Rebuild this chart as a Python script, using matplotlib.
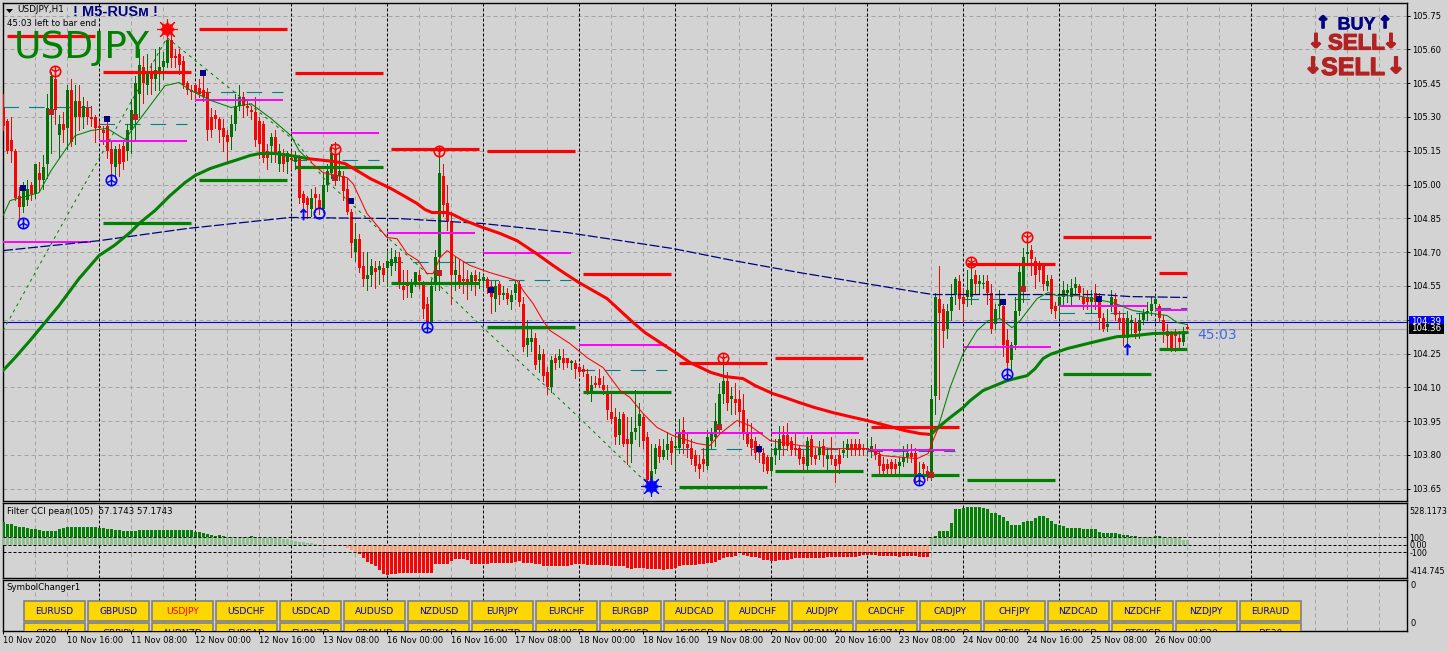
import matplotlib
matplotlib.use('Agg')
import matplotlib.pyplot as plt
import matplotlib.patheffects as pe
from matplotlib.patches import Rectangle
import numpy as np

W, H = 1447, 651
BG = '#d3d3d3'

open_px = [
    105.34,105.28,105.20,105.15,104.95,104.90,104.93,105.00,104.96,105.05,105.02,105.09,105.31,105.47,105.22,105.27,
    105.25,105.42,105.30,105.37,105.30,105.34,105.30,105.30,105.26,105.24,105.26,105.16,105.08,105.16,105.17,105.15,
    105.24,105.30,105.40,105.52,105.44,105.49,105.47,105.50,105.52,105.54,105.64,105.57,105.58,105.55,105.45,105.42,
    105.44,105.43,105.42,105.41,105.30,105.31,105.29,105.25,105.22,105.21,105.27,105.35,105.39,105.35,105.33,105.32,
    105.28,105.27,105.15,105.17,105.21,105.09,105.14,105.10,105.12,105.10,105.12,104.96,104.94,104.89,104.96,104.93,
    104.89,105.00,105.05,105.13,105.04,105.04,104.98,104.88,104.70,104.76,104.64,104.58,104.60,104.63,104.62,104.63,
    104.63,104.64,104.65,104.68,104.55,104.56,104.52,104.56,104.60,104.56,104.47,104.39,104.56,104.68,105.04,104.92,
    104.84,104.60,104.60,104.58,104.58,104.56,104.60,104.57,104.57,104.58,104.55,104.49,104.56,104.51,104.52,104.48,
    104.52,104.56,104.47,104.29,104.30,104.32,104.22,104.25,104.17,104.10,104.23,104.22,104.23,104.23,104.21,104.21,
    104.19,104.18,104.16,104.08,104.12,104.14,104.11,104.07,103.99,103.97,103.89,103.98,103.87,103.85,103.90,103.93,
    103.97,103.88,103.69,103.74,103.84,103.79,103.82,103.86,103.83,103.83,103.91,103.85,103.83,103.80,103.76,103.78,
    103.75,103.86,103.88,103.93,104.07,104.13,104.05,104.05,104.05,104.00,103.90,103.87,103.86,103.84,103.81,103.79,
    103.73,103.80,103.82,103.89,103.89,103.86,103.83,103.83,103.79,103.75,103.87,103.80,103.80,103.84,103.78,103.80,
    103.78,103.80,103.81,103.82,103.85,103.85,103.85,103.83,103.82,103.82,103.82,103.80,103.76,103.76,103.77,103.76,
    103.75,103.77,103.79,103.81,103.81,103.71,103.76,103.73,103.70,104.06,104.49,104.45,104.36,104.44,104.51,104.57,
    104.50,104.50,104.50,104.60,104.56,104.56,104.57,104.52,104.38,104.46,104.46,104.31,104.22,104.29,104.44,104.54,
    104.69,104.71,104.66,104.65,104.64,104.55,104.58,104.46,104.46,104.50,104.52,104.50,104.54,104.55,104.50,104.50,
    104.48,104.52,104.49,104.41,104.37,104.46,104.49,104.41,104.41,104.32,104.39,104.39,104.35,104.40,104.43,104.44,
    104.47,104.46,104.40,104.35,104.34,104.34,104.32,104.30,104.37,
]
close_px = [
    105.26,105.15,105.15,104.94,104.90,104.97,104.98,104.96,105.09,105.02,105.08,105.34,105.48,105.33,105.27,105.24,
    105.42,105.19,105.37,105.30,105.35,105.30,105.29,105.25,105.25,105.23,105.15,105.09,105.16,105.09,105.10,105.24,
    105.33,105.45,105.53,105.45,105.49,105.47,105.51,105.52,105.55,105.64,105.56,105.56,105.53,105.44,105.42,105.41,
    105.41,105.40,105.39,105.24,105.24,105.29,105.24,105.21,105.19,105.27,105.35,105.39,105.35,105.34,105.32,105.20,
    105.18,105.12,105.12,105.21,105.14,105.15,105.09,105.14,105.11,105.13,104.94,104.92,104.91,104.94,104.94,104.89,
    105.00,105.06,105.14,105.03,105.06,104.97,104.88,104.74,104.76,104.63,104.58,104.60,104.64,104.61,104.64,104.60,
    104.66,104.67,104.68,104.56,104.53,104.55,104.56,104.61,104.57,104.45,104.39,104.55,104.68,105.05,104.91,104.84,
    104.60,104.62,104.56,104.57,104.56,104.60,104.57,104.58,104.59,104.54,104.50,104.55,104.51,104.52,104.49,104.51,
    104.56,104.48,104.28,104.32,104.32,104.20,104.25,104.15,104.10,104.22,104.21,104.24,104.21,104.21,104.21,104.18,
    104.17,104.17,104.08,104.11,104.11,104.11,104.09,104.00,103.96,103.88,103.96,103.85,103.85,103.90,103.92,103.98,
    103.86,103.69,103.73,103.83,103.79,103.82,103.85,103.81,103.84,103.90,103.85,103.83,103.78,103.75,103.74,103.76,
    103.88,103.90,103.95,104.07,104.13,104.03,104.06,104.03,103.99,103.90,103.85,103.83,103.81,103.81,103.76,103.73,
    103.79,103.83,103.87,103.84,103.84,103.82,103.82,103.78,103.76,103.86,103.79,103.78,103.83,103.80,103.80,103.78,
    103.75,103.76,103.82,103.85,103.82,103.82,103.82,103.82,103.83,103.84,103.80,103.75,103.73,103.74,103.74,103.74,
    103.77,103.79,103.81,103.79,103.71,103.72,103.74,103.71,104.05,104.50,104.43,104.35,104.44,104.50,104.58,104.49,
    104.47,104.53,104.58,104.56,104.57,104.56,104.52,104.36,104.45,104.47,104.29,104.21,104.29,104.44,104.61,104.68,
    104.70,104.67,104.60,104.62,104.56,104.57,104.45,104.44,104.50,104.53,104.53,104.54,104.56,104.52,104.47,104.48,
    104.50,104.48,104.41,104.36,104.38,104.50,104.42,104.39,104.32,104.41,104.40,104.34,104.40,104.43,104.44,104.47,
    104.49,104.41,104.35,104.33,104.27,104.33,104.30,104.35,104.36,
]
high_px = [
    105.40,105.29,105.30,105.16,104.99,105.01,105.02,105.01,105.09,105.10,105.13,105.40,105.50,105.49,105.31,105.32,
    105.44,105.47,105.44,105.44,105.39,105.37,105.35,105.31,105.28,105.26,105.28,105.20,105.17,105.18,105.19,105.27,
    105.38,105.48,105.60,105.57,105.58,105.54,105.60,105.61,105.59,105.70,105.67,105.60,105.60,105.57,105.46,105.44,
    105.45,105.47,105.50,105.43,105.34,105.33,105.30,105.29,105.24,105.31,105.40,105.44,105.41,105.38,105.35,105.39,
    105.30,105.28,105.18,105.23,105.24,105.18,105.16,105.15,105.15,105.15,105.13,104.97,104.95,104.98,104.99,104.96,
    105.05,105.09,105.18,105.19,105.14,105.06,105.03,104.89,104.83,104.78,104.70,104.70,104.67,104.66,104.66,104.65,
    104.70,104.72,104.71,104.70,104.62,104.62,104.58,104.61,104.62,104.57,104.50,104.58,104.71,105.15,105.09,105.00,
    104.88,104.68,104.67,104.66,104.62,104.61,104.62,104.61,104.60,104.59,104.57,104.57,104.57,104.55,104.54,104.53,
    104.57,104.57,104.50,104.40,104.37,104.34,104.29,104.27,104.19,104.24,104.25,104.27,104.27,104.23,104.22,104.22,
    104.20,104.20,104.18,104.15,104.15,104.18,104.15,104.11,104.07,104.01,103.99,103.99,103.97,103.97,104.09,104.03,
    103.98,103.90,103.85,103.85,103.87,103.87,103.90,103.88,103.89,103.96,103.97,103.90,103.87,103.82,103.80,103.83,
    103.91,103.92,104.03,104.12,104.22,104.17,104.10,104.12,104.09,104.07,103.96,103.94,103.88,103.85,103.83,103.80,
    103.83,103.87,103.93,103.93,103.94,103.88,103.90,103.84,103.82,103.88,103.89,103.83,103.86,103.87,103.83,103.88,
    103.80,103.83,103.86,103.87,103.87,103.87,103.87,103.85,103.87,103.88,103.85,103.82,103.79,103.78,103.78,103.78,
    103.79,103.84,103.85,103.85,103.83,103.77,103.77,103.75,104.11,104.52,104.64,104.47,104.47,104.56,104.59,104.60,
    104.54,104.62,104.65,104.62,104.60,104.60,104.60,104.56,104.47,104.53,104.47,104.36,104.30,104.50,104.64,104.72,
    104.74,104.73,104.68,104.66,104.65,104.60,104.60,104.48,104.55,104.57,104.56,104.58,104.59,104.56,104.54,104.53,
    104.53,104.56,104.52,104.43,104.45,104.53,104.52,104.44,104.43,104.44,104.42,104.41,104.43,104.45,104.48,104.50,
    104.50,104.47,104.42,104.38,104.35,104.36,104.35,104.37,104.38,
]
low_px = [
    105.24,105.14,105.10,104.93,104.85,104.88,104.91,104.93,104.94,104.97,104.98,105.03,105.14,105.27,105.12,105.19,
    105.16,105.17,105.18,105.24,105.25,105.27,105.26,105.19,105.21,105.18,105.12,105.00,105.03,105.04,105.07,105.11,
    105.14,105.20,105.30,105.36,105.40,105.40,105.42,105.42,105.47,105.52,105.52,105.52,105.49,105.43,105.40,105.38,
    105.37,105.39,105.37,105.20,105.21,105.25,105.19,105.15,105.10,105.16,105.24,105.33,105.30,105.31,105.29,105.17,
    105.12,105.10,105.07,105.10,105.10,105.06,105.06,105.05,105.07,105.07,104.92,104.89,104.85,104.86,104.88,104.87,
    104.88,104.97,105.03,105.00,105.02,104.93,104.87,104.68,104.66,104.61,104.55,104.53,104.55,104.54,104.56,104.57,
    104.55,104.60,104.62,104.54,104.49,104.50,104.50,104.55,104.54,104.41,104.38,104.38,104.53,104.53,104.86,104.80,
    104.47,104.53,104.54,104.52,104.49,104.53,104.51,104.54,104.53,104.52,104.43,104.44,104.47,104.49,104.47,104.45,
    104.49,104.46,104.26,104.24,104.26,104.18,104.17,104.13,104.07,104.08,104.18,104.19,104.18,104.19,104.18,104.14,
    104.15,104.15,104.07,104.04,104.10,104.10,104.07,103.96,103.94,103.85,103.85,103.84,103.76,103.77,103.87,103.84,
    103.83,103.67,103.67,103.72,103.77,103.78,103.78,103.76,103.74,103.81,103.81,103.79,103.76,103.73,103.70,103.73,
    103.74,103.83,103.84,103.90,104.03,104.00,103.98,103.98,103.93,103.87,103.84,103.80,103.78,103.77,103.73,103.72,
    103.71,103.76,103.78,103.80,103.82,103.80,103.80,103.76,103.74,103.74,103.76,103.76,103.78,103.75,103.74,103.76,
    103.68,103.72,103.79,103.79,103.80,103.80,103.80,103.80,103.80,103.79,103.78,103.72,103.71,103.72,103.71,103.72,
    103.72,103.75,103.77,103.77,103.68,103.69,103.70,103.69,103.69,103.98,104.05,104.28,104.32,104.40,104.47,104.45,
    104.39,104.46,104.47,104.52,104.52,104.54,104.47,104.34,104.36,104.41,104.24,104.17,104.18,104.27,104.42,104.48,
    104.65,104.60,104.54,104.57,104.53,104.53,104.43,104.41,104.41,104.47,104.48,104.47,104.51,104.49,104.45,104.45,
    104.43,104.45,104.36,104.35,104.35,104.44,104.40,104.36,104.29,104.27,104.33,104.32,104.32,104.38,104.40,104.42,
    104.45,104.39,104.30,104.28,104.26,104.26,104.28,104.29,104.36,
]

cci_values = [
    300,283,275,248,239,230,220,216,216,202,185,185,185,185,207,225,
    239,243,243,239,239,239,239,232,220,225,212,207,198,190,185,180,
    178,185,190,190,198,198,198,198,194,198,198,194,190,194,194,190,
    175,165,157,148,130,122,126,122,108,102,96,96,97,105,118,102,
    99,94,94,94,85,85,81,81,63,54,36,32,27,18,13,-8,
    -12,-14,-14,-14,-18,-22,-45,-68,-95,-130,-171,-230,-261,-283,-342,-387,
    -400,-391,-385,-382,-382,-382,-382,-382,-382,-382,-382,-382,-261,-261,-261,-261,
    -220,-193,-193,-193,-207,-261,-261,-261,-252,-252,-239,-239,-239,-239,-239,-239,
    -226,-213,-239,-239,-239,-252,-252,-287,-287,-287,-287,-287,-287,-278,-265,-252,
    -252,-252,-265,-265,-265,-265,-265,-265,-278,-287,-287,-287,-304,-318,-304,-304,
    -304,-318,-318,-318,-318,-331,-318,-318,-304,-278,-265,-265,-265,-265,-252,-252,
    -239,-239,-226,-200,-174,-161,-161,-148,-113,-135,-148,-161,-161,-174,-200,-200,
    -213,-213,-200,-200,-200,-187,-174,-174,-174,-174,-174,-174,-174,-174,-161,-161,
    -161,-161,-161,-161,-161,-161,-148,-135,-135,-135,-135,-148,-148,-148,-148,-148,
    -161,-148,-148,-148,-148,-161,-161,-161,100,117,185,185,185,292,481,481,
    490,504,508,508,499,495,481,427,418,400,364,320,265,265,265,306,
    310,310,355,382,378,355,320,283,265,252,225,225,225,225,211,211,
    211,211,171,162,162,157,157,144,130,130,121,117,108,99,99,99,
    115,112,99,94,94,90,85,67,67,
]

# thick and thin moving averages, three colour runs each
thick_up1_x = [0,3,6.75,10.5,14,19,24,27.75,31.75,34.25,38,41.75,45.5,48,51.75,55.5,58,61.75,64.25,68,71.75,76.25]
thick_up1_y = [104.175,104.232,104.308,104.388,104.463,104.583,104.685,104.729,104.787,104.831,104.885,104.951,105.009,105.040,105.071,105.093,105.107,105.129,105.138,105.138,105.129,105.115]
thick_dn_x = [76.25,83,85.5,88.5,91.75,97,100.5,103.5,105.5,107.25,109.25,111,112.5,115.5,120,124.25,128.5,133,137.5,140.5,144,151,154.25,157.5,160.5,163.5,168.5,171.75,177,180.5,185,188,192.5,195.5,199,203,207.5,211.75,216,221,225.5,229.25,232]
thick_dn_y = [105.115,105.102,105.093,105.062,105.027,104.982,104.947,104.916,104.889,104.876,104.876,104.876,104.867,104.840,104.809,104.783,104.751,104.698,104.641,104.605,104.565,104.494,104.441,104.388,104.343,104.308,104.250,104.210,104.166,104.148,104.139,104.108,104.072,104.055,104.033,104.010,103.988,103.970,103.953,103.930,103.908,103.895,103.891]
thick_up2_x = [232,233.75,236.75,240,241.75,245,248,251,253,256,258,260,261.75,266,271,274.25,278.5,283,287.5,296]
thick_up2_y = [103.891,103.922,103.966,104.010,104.041,104.086,104.108,104.130,104.139,104.152,104.183,104.228,104.246,104.272,104.294,104.308,104.325,104.330,104.339,104.343]

thin_up1_x = [0,1.75,9,12,18,22,26,30.5,33,40.5,44,47,52,57,62,67,72,74,76]
thin_up1_y = [104.862,104.929,104.964,105.062,105.217,105.240,105.249,105.200,105.262,105.439,105.453,105.417,105.373,105.342,105.359,105.293,105.217,105.151,105.115]
thin_dn_x = [77,80,86,87.5,91,96,98.5,101,103.75,106,107.5,109.25,111,113.5,116.75,121.75,128.5,130,132.5,135,136.75,141.75,146,150,154.25,156.75,160,163.5,167.5,173.5,176.75,179.25,183.5,186.75,191.75,199.25,207.5,216,220,228.5,231.25,232.5,233.75]
thin_dn_y = [105.098,105.053,105.031,105.004,104.871,104.765,104.760,104.694,104.663,104.605,104.605,104.676,104.707,104.676,104.641,104.609,104.574,104.530,104.472,104.396,104.352,104.294,104.232,104.188,104.086,104.055,103.984,103.922,103.886,103.851,103.842,103.895,103.953,103.930,103.864,103.842,103.828,103.828,103.797,103.784,103.806,103.864,103.917]
thin_up2_x = [233.75,236.75,240,243.5,246.25,249.25,252.25,254.25,258.5,261.25,263.5,268.5,277.5,282.5,287.5,291,293.5,296]
thin_up2_y = [103.922,104.099,104.250,104.352,104.396,104.405,104.365,104.396,104.494,104.521,104.507,104.507,104.476,104.441,104.427,104.419,104.388,104.379]

slow_ma_x = [0,24,46,71.75,99.25,120,141,157.5,167.5,182.5,199.25,229.25,232.5,274.25,281.75,296]
slow_ma_y = [104.707,104.751,104.805,104.854,104.849,104.827,104.787,104.743,104.716,104.663,104.609,104.521,104.512,104.512,104.503,104.499]

zigzag_x = [0,11.25,41,73.5,80,94.25,106,120,127.5,144.25,158.5,161.25]
zigzag_y = [104.352,104.712,105.652,105.186,105.031,104.796,104.605,104.365,104.241,103.962,103.717,103.673]

# day levels
red_start = [1,25,49,73,97,121,145,169,193,217,241,265,289]
red_end = [23,47,71,95,119,143,167,191,215,239,263,287,296]
red_level = [105.661,105.501,105.692,105.493,105.160,105.151,104.601,104.210,104.232,103.922,104.649,104.769,104.609]
green_start = red_start[1:]
green_end = red_end[1:]
green_level = [104.831,105.022,105.080,104.565,104.370,104.081,103.660,103.731,103.709,103.691,104.161,104.272]
pivot_start = [0,24,48,72,96,120,144,168,192,216,240,264,288]
pivot_end = [22,46,70,94,118,142,166,190,214,238,262,286,296]
magenta_level = [104.743,105.195,105.377,105.231,104.787,104.698,104.290,103.899,103.899,103.824,104.281,104.459,104.445]
teal_level = [105.346,105.271,105.413,105.111,104.658,104.578,104.179,103.828,103.828,103.819,104.490,104.432,104.454]

# chart signals
sell_circle_x = [13,83,109,180,242,256]
sell_circle_y = [105.506,105.160,105.151,104.232,104.658,104.769]
buy_circle_x = [5,27,106,229,251]
buy_circle_y = [104.831,105.022,104.370,103.691,104.161]
open_circle_x = [79]
open_circle_y = [104.876]
up_arrow_x = [75,281]
up_arrow_y = [104.871,104.272]
red_star_x, red_star_y = [41], [105.692]
blue_star_x, blue_star_y = [162], [103.664]
navy_sq_x = [5,26,50,87,122,189,250,274]
navy_sq_y = [104.987,105.293,105.493,104.929,104.530,103.828,104.481,104.490]
brown_sq_x = [12,33,83,109,179,232,255]
brown_sq_y = [105.320,105.302,105.031,104.609,103.922,103.709,104.538]

price_ticks = [103.65,103.80,103.95,104.10,104.25,104.40,104.55,104.70,104.85,105.00,105.15,105.30,105.45,105.60,105.75]
time_labels = ['10 Nov 2020','10 Nov 16:00','11 Nov 08:00','12 Nov 00:00','12 Nov 16:00','13 Nov 08:00',
               '16 Nov 00:00','16 Nov 16:00','17 Nov 08:00','18 Nov 00:00','18 Nov 16:00','19 Nov 08:00',
               '20 Nov 00:00','20 Nov 16:00','23 Nov 08:00','24 Nov 00:00','24 Nov 16:00','25 Nov 08:00','26 Nov 00:00']
symbols_row1 = ['EURUSD','GBPUSD','USDJPY','USDCHF','USDCAD','AUDUSD','NZDUSD','EURJPY','EURCHF','EURGBP',
                'AUDCAD','AUDCHF','AUDJPY','CADCHF','CADJPY','CHFJPY','NZDCAD','NZDCHF','NZDJPY','EURAUD']
symbols_row2 = ['GBPCHF','GBPJPY','AUDNZD','EURCAD','EURNZD','GBPAUD','GBPCAD','GBPNZD','XAUUSD','XAGUSD',
                'USDSGD','USDHKD','USDMXN','USDZAR','NZDSGD','XTIUSD','XBRUSD','BTCUSD','US30','DE30']

plt.rcParams['font.family'] = 'DejaVu Sans'
plt.rcParams['font.size'] = 6


def panel(fig, top, bottom, left=2.5, right=1406.5):
    ax = fig.add_axes([left / W, 1 - bottom / H, (right - left) / W, (bottom - top) / H])
    ax.set_facecolor(BG)
    ax.set_xlim(-0.14, 350.86)
    for spine in ax.spines.values():
        spine.set_linewidth(1.0)
        spine.set_color('black')
    ax.yaxis.tick_right()
    ax.tick_params(axis='y', length=2.4, width=0.72, pad=1.5, labelsize=6)
    ax.set_xticks([])
    return ax


def draw_grid(ax, hlines=()):
    gray = [8 * k for k in range(45) if k % 3 != 0 or k > 39]
    for x in gray:
        ax.axvline(x, color='#a3a3a3', lw=0.72, ls=(0, (4, 3)), zorder=1)
    for y in hlines:
        ax.axhline(y, color='#a3a3a3', lw=0.72, ls=(0, (4, 3)), zorder=1)
    for x in range(24, 313, 24):
        ax.axvline(x, color='black', lw=0.72, ls=(0, (3, 2)), zorder=1.5)


def draw_candles(ax):
    bars = np.arange(len(close_px))
    o, c = np.array(open_px), np.array(close_px)
    colors = np.where(c >= o, '#007000', '#ff0000')
    ax.vlines(bars, low_px, high_px, colors=colors, lw=0.72, antialiased=False, zorder=3)
    # keep a one pixel body on the flat bars
    body = np.maximum(np.abs(c - o), 0.005)
    ax.bar(bars, body, bottom=np.minimum(o, c), width=0.75, color=colors, lw=0,
           antialiased=False, zorder=3.1)


def draw_levels(ax):
    ax.hlines(red_level, red_start, red_end, colors='#ff0000', lw=2.3, zorder=4)
    ax.hlines(green_level, green_start, green_end, colors='#008000', lw=2.3, zorder=4)
    ax.hlines(magenta_level, pivot_start, pivot_end, colors='#ff00ff', lw=1.4, zorder=4)
    ax.hlines(teal_level, pivot_start, pivot_end, colors='#008080', lw=0.8,
              linestyles=(0, (14, 9)), zorder=2.5)


def draw_lines(ax):
    ax.plot(slow_ma_x, slow_ma_y, color='#000080', lw=0.9, ls=(0, (8, 2)), zorder=4.2)
    ax.plot(zigzag_x, zigzag_y, color='#008000', lw=0.72, ls=(0, (3, 4)), zorder=4.2)
    ax.plot(thick_up1_x, thick_up1_y, color='#008000', lw=2.2, zorder=5)
    ax.plot(thick_dn_x, thick_dn_y, color='#ff0000', lw=2.2, zorder=5)
    ax.plot(thick_up2_x, thick_up2_y, color='#008000', lw=2.2, zorder=5)
    ax.plot(thin_up1_x, thin_up1_y, color='#008000', lw=0.75, zorder=5)
    ax.plot(thin_dn_x, thin_dn_y, color='#ff0000', lw=0.75, zorder=5)
    ax.plot(thin_up2_x, thin_up2_y, color='#008000', lw=0.75, zorder=5)


def draw_signals(ax):
    kw = dict(ls='none', zorder=6)
    ax.plot(navy_sq_x, navy_sq_y, marker='s', ms=3.8, color='#000080', mew=0, **kw)
    ax.plot(brown_sq_x, brown_sq_y, marker='s', ms=3.8, color='#b22222', mew=0, **kw)
    ax.plot(sell_circle_x, sell_circle_y, marker='o', ms=7.5, mfc='none', mec='#ff0000', mew=1.2, **kw)
    ax.plot(sell_circle_x, sell_circle_y, marker='1', ms=6.5, color='#ff0000', mew=1.0, **kw)
    ax.plot(sell_circle_x, sell_circle_y, marker='|', ms=6.5, color='#ff0000', mew=1.0, **kw)
    ax.plot(buy_circle_x, buy_circle_y, marker='o', ms=7.5, mfc='none', mec='#0000ff', mew=1.2, **kw)
    ax.plot(buy_circle_x, buy_circle_y, marker='2', ms=6.5, color='#0000ff', mew=1.0, **kw)
    ax.plot(buy_circle_x, buy_circle_y, marker='|', ms=6.5, color='#0000ff', mew=1.0, **kw)
    ax.plot(open_circle_x, open_circle_y, marker='o', ms=7.5, mfc='none', mec='#0000ff', mew=1.3, **kw)
    ax.plot(up_arrow_x, up_arrow_y, marker=r'$\uparrow$', ms=8, color='#0000ff', mew=0.4, **kw)
    for x, y, col in [(red_star_x, red_star_y, '#ff0000'), (blue_star_x, blue_star_y, '#0000ff')]:
        ax.plot(x, y, marker=(8, 1, 0), ms=13, color=col, mew=0, **kw)
        ax.plot(x, y, marker='o', ms=9, color=col, mew=0, alpha=0.75, **kw)
        ax.plot(x, y, marker=(8, 2, 0), ms=15, color=col, mew=0.8, **kw)


def draw_buttons(ax):
    for col, name in enumerate(symbols_row1):
        x0 = (23.5 + 64 * col - 3) / 4
        ax.add_patch(Rectangle((x0, 601), 15.4, 20, fc='#ffd700', ec='#808080', lw=1.2, zorder=3))
        ax.text(x0 + 7.7, 611, name, color='#ff0000' if name == 'USDJPY' else '#0000cd',
                ha='center', va='center', fontsize=6.6, zorder=4)
    for col, name in enumerate(symbols_row2):
        x0 = (23.5 + 64 * col - 3) / 4
        ax.add_patch(Rectangle((x0, 623), 15.4, 20, fc='#ffd700', ec='#808080', lw=1.2, zorder=3))
        ax.text(x0 + 7.7, 633, name, color='#0000cd', ha='center', va='center',
                fontsize=6.6, zorder=4, clip_on=True)


def figtext(fig, px, py, s, **kw):
    kw.setdefault('va', 'center')
    return fig.text(px / W, 1 - py / H, s, **kw)


def draw_overlay(fig):
    fig.add_artist(plt.Polygon([(6 / W, 1 - 9 / H), (13 / W, 1 - 9 / H), (9.5 / W, 1 - 13 / H)],
                               closed=True, fc='black', ec='none', transform=fig.transFigure))
    figtext(fig, 17.5, 10, 'USDJPY,H1', fontsize=6.4, color='black')
    figtext(fig, 73, 12, '! M5-RUSм !', fontsize=10.5, color='#000080', fontweight='bold', family='Liberation Sans')
    figtext(fig, 7, 23, '45:03 left to bar end', fontsize=6.2, color='black')
    figtext(fig, 14, 48, 'USDJPY', fontsize=27, color='#008000')
    figtext(fig, 1197, 335, '45:03', fontsize=10, color='#4169e1')
    figtext(fig, 6.6, 511, 'Filter CCI реал(105)  57.1743 57.1743', fontsize=6.2, color='black')
    figtext(fig, 6.6, 588, 'SymbolChanger1', fontsize=6.2, color='black')

    heavy = [pe.withStroke(linewidth=0.9, foreground='#b22222')]
    navy = [pe.withStroke(linewidth=0.2, foreground='#000080')]
    figtext(fig, 1356.5, 25, 'BUY', fontsize=13, color='#000080', fontweight='bold',
            family='Liberation Sans', ha='center', path_effects=navy)
    figtext(fig, 1356.5, 44, 'SELL', fontsize=16, color='#b22222', fontweight='bold',
            family='Liberation Sans', ha='center', path_effects=heavy)
    figtext(fig, 1353, 68, 'SELL', fontsize=18, color='#b22222', fontweight='bold',
            family='Liberation Sans', ha='center', path_effects=heavy)
    for px, py, size, col in [(1323, 23, 12, '#000080'), (1385, 23, 12, '#000080'),
                              (1316, 42, 14, '#b22222'), (1391, 42, 14, '#b22222'),
                              (1313, 67, 16, '#b22222'), (1396, 67, 16, '#b22222')]:
        figtext(fig, px, py, '\u2191' if col == '#000080' else '\u2193', fontsize=size, color=col,
                fontweight='bold', ha='center',
                path_effects=[pe.withStroke(linewidth=1.2, foreground=col)])

    # price tags on the right axis
    for py0, py1, col, label in [(316, 327, '#0000ff', '104.39'), (323.5, 333.5, 'black', '104.36')]:
        fig.add_artist(Rectangle((1409 / W, 1 - py1 / H), 35 / W, (py1 - py0) / H, fc=col, ec='none',
                                 transform=fig.transFigure))
        figtext(fig, 1411, (py0 + py1) / 2, label, fontsize=6.2, color='white')


def main():
    fig = plt.figure(figsize=(W / 100, H / 100), dpi=100, facecolor=BG)

    ax_main = panel(fig, 2.5, 500.5)
    ax_main.set_ylim(103.598, 105.808)
    ax_main.set_yticks(price_ticks)
    ax_main.set_yticklabels([f'{p:.2f}' for p in price_ticks])
    draw_grid(ax_main, price_ticks)
    draw_candles(ax_main)
    draw_levels(ax_main)
    draw_lines(ax_main)
    draw_signals(ax_main)
    ax_main.axhline(104.39, color='#0000cd', lw=0.8, zorder=2.5)
    ax_main.axhline(104.36, color='#a9a9a9', lw=0.8, zorder=2.5)

    ax_cci = panel(fig, 502.5, 577.5)
    ax_cci.set_ylim(-437, 563)
    ax_cci.set_yticks([463, 100, 0, -100, -337])
    ax_cci.set_yticklabels(['528.1173', '100', '0.00', '-100', '-414.745'])
    ax_cci.tick_params(axis='y', length=0, pad=2, labelsize=5.8)
    draw_grid(ax_cci)
    vals = np.array(cci_values, dtype=float)
    bars = np.arange(len(vals))
    ax_cci.bar(bars, np.clip(vals, 0, 100), width=0.75, color='#90bf90', lw=0, antialiased=False, zorder=3)
    ax_cci.bar(bars, np.clip(vals, -100, 0), width=0.75, color='#ffa07a', lw=0, antialiased=False, zorder=3)
    up = vals > 100
    dn = vals < -100
    ax_cci.bar(bars[up], vals[up] - 100, bottom=100, width=0.75, color='#008000', lw=0, antialiased=False, zorder=3)
    ax_cci.bar(bars[dn], vals[dn] + 100, bottom=-100, width=0.75, color='#ff0000', lw=0, antialiased=False, zorder=3)
    for level in [100, 0, -100]:
        ax_cci.axhline(level, color='black', lw=0.72, ls=(0, (3, 2)), zorder=4)

    ax_sym = panel(fig, 579.5, 630.5)
    ax_sym.set_ylim(630.5, 579.5)
    ax_sym.set_yticks([585, 623])
    ax_sym.set_yticklabels(['0', '0'])
    ax_sym.tick_params(axis='y', length=0, pad=3)
    draw_grid(ax_sym)
    draw_buttons(ax_sym)
    ax_sym.set_xticks(range(0, 16 * len(time_labels), 16))
    ax_sym.set_xticklabels(time_labels, ha='left')
    ax_sym.tick_params(axis='x', length=2.4, width=0.72, pad=1.5, labelsize=6)

    draw_overlay(fig)
    fig.savefig('out.png', dpi=100, facecolor=BG)
    plt.close(fig)


if __name__ == '__main__':
    main()
